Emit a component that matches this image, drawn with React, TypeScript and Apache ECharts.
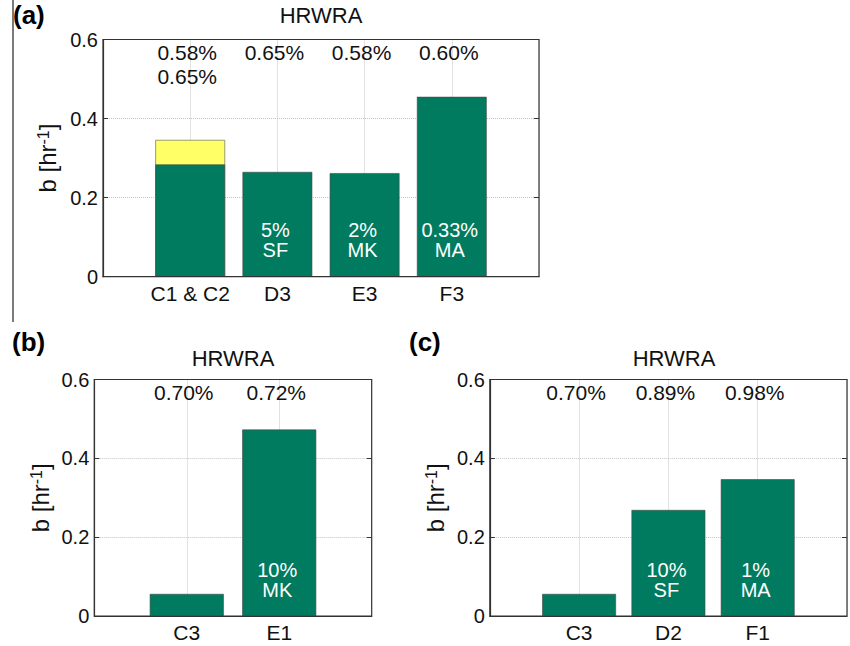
import React, { useEffect, useRef } from "react";
import * as echarts from "echarts";

// ---------- data ----------
const aCategories = ["C1 & C2", "D3", "E3", "F3"];
const aValues = [0.284, 0.265, 0.262, 0.455];
const aExtraValues = [0.346, null, null, null]; // yellow (behind green)
const aTopLine1 = ["0.58%", "0.65%", "0.58%", "0.60%"];
const aTopLine2 = ["0.65%", "", "", ""];
const aInnerPct = ["", "5%", "2%", "0.33%"];
const aInnerCode = ["", "SF", "MK", "MA"];

const bCategories = ["C3", "E1"];
const bValues = [0.056, 0.473];
const bTopLine1 = ["0.70%", "0.72%"];
const bInnerPct = ["", "10%"];
const bInnerCode = ["", "MK"];

const cCategories = ["C3", "D2", "F1"];
const cValues = [0.056, 0.269, 0.347];
const cTopLine1 = ["0.70%", "0.89%", "0.98%"];
const cInnerPct = ["", "10%", "1%"];
const cInnerCode = ["", "SF", "MA"];

const yTicks = [0, 0.2, 0.4, 0.6];
const panelLabels = ["(a)", "(b)", "(c)"];
const panelTitle = "HRWRA";

// ---------- layout / style ----------
const FONT = "'Liberation Sans', Arial, Helvetica, sans-serif";
const GREEN = "#007B5F";
const YELLOW = "#FFFF66";
const TXT = "#111";
const TOP_Y1 = 0.567;
const TOP_Y2 = 0.506;
const INNER_Y = 0.092;

const panels = [
  {
    grid: { left: 103, top: 39.5, width: 436, height: 237.2 },
    categories: aCategories,
    values: aValues,
    extra: aExtraValues,
    top1: aTopLine1,
    top2: aTopLine2,
    innerPct: aInnerPct,
    innerCode: aInnerCode,
    title: { x: 321, y: 4 },
    label: { x: 13, y: 2 },
  },
  {
    grid: { left: 94.3, top: 379.5, width: 277.4, height: 236.5 },
    categories: bCategories,
    values: bValues,
    extra: null,
    top1: bTopLine1,
    top2: null,
    innerPct: bInnerPct,
    innerCode: bInnerCode,
    title: { x: 233, y: 347 },
    label: { x: 12, y: 329 },
  },
  {
    grid: { left: 489.8, top: 379.5, width: 369, height: 236.5 },
    categories: cCategories,
    values: cValues,
    extra: null,
    top1: cTopLine1,
    top2: null,
    innerPct: cInnerPct,
    innerCode: cInnerCode,
    title: { x: 674, y: 347 },
    label: { x: 409, y: 329 },
  },
];

function buildOption() {
  const title: any[] = [];
  const grid: any[] = [];
  const xAxis: any[] = [];
  const yAxis: any[] = [];
  const series: any[] = [];

  panels.forEach((p, i) => {
    const n = p.categories.length;
    const slot = p.grid.width / (n + 1);
    const barWidth = slot * 0.8;

    title.push({
      text: panelTitle,
      left: p.title.x,
      top: p.title.y,
      textAlign: "center",
      padding: 0,
      textStyle: { fontSize: 22, fontWeight: "normal", color: TXT, fontFamily: FONT },
    });
    title.push({
      text: panelLabels[i],
      left: p.label.x,
      top: p.label.y,
      padding: 0,
      textStyle: { fontSize: 26, fontWeight: "bold", color: "#000", fontFamily: FONT },
    });

    grid.push({
      ...p.grid,
      show: true,
      z: 10,
      borderColor: "#333",
      borderWidth: 1.2,
      backgroundColor: "transparent",
      containLabel: false,
    });

    xAxis.push({
      type: "value",
      gridIndex: i,
      min: 0,
      max: n + 1,
      interval: 1,
      axisLine: { show: true, lineStyle: { color: "#333", width: 1.2 } },
      axisTick: { show: false },
      axisLabel: {
        fontSize: 21,
        color: TXT,
        margin: 6,
        fontFamily: FONT,
        formatter: (v: number) => p.categories[Math.round(v) - 1] ?? "",
      },
      splitLine: { show: true, lineStyle: { type: "dotted", color: "#c4c4c4", width: 1 } },
    });

    const yBase = {
      type: "value",
      gridIndex: i,
      min: yTicks[0],
      max: yTicks[yTicks.length - 1],
      interval: 0.2,
    };
    yAxis.push({
      ...yBase,
      position: "left",
      name: "{m|b [hr}{sup|-1}{m|]}",
      nameLocation: "middle",
      nameRotate: 90,
      nameGap: 42,
      nameTextStyle: {
        fontSize: 24,
        color: TXT,
        fontFamily: FONT,
        rich: {
          m: { fontSize: 24, color: TXT, fontFamily: FONT },
          sup: { fontSize: 16, verticalAlign: "top", color: TXT, fontFamily: FONT, padding: [0, 0, 7, 0] },
        },
      },
      axisLine: { show: true, lineStyle: { color: "#333", width: 1.2 } },
      axisTick: { show: true, inside: true, length: 5, lineStyle: { color: "#333" } },
      axisLabel: {
        fontSize: 20,
        color: TXT,
        margin: 5,
        fontFamily: FONT,
        formatter: (v: number) => (v === 0 ? "0" : String(Math.round(v * 10) / 10)),
      },
      splitLine: { show: true, lineStyle: { type: "dotted", color: "#c4c4c4", width: 1 } },
    });
    yAxis.push({
      ...yBase,
      position: "right",
      axisLine: { show: false },
      axisTick: { show: true, inside: true, length: 5, lineStyle: { color: "#333" } },
      axisLabel: { show: false },
      splitLine: { show: false },
    });

    const yIdx = 2 * i;
    if (p.extra) {
      series.push({
        type: "bar",
        xAxisIndex: i,
        yAxisIndex: yIdx,
        barWidth,
        barGap: "-100%",
        data: p.extra
          .map((v, k) => (v == null ? null : [k + 1, v]))
          .filter((d) => d != null),
        itemStyle: { color: YELLOW, borderColor: "#555", borderWidth: 0.6 },
        z: 2,
        silent: true,
      });
    }
    series.push({
      type: "bar",
      xAxisIndex: i,
      yAxisIndex: yIdx,
      barWidth,
      barGap: "-100%",
      data: p.values.map((v, k) => [k + 1, v]),
      itemStyle: { color: GREEN, borderColor: "#444", borderWidth: 0.6 },
      z: 3,
      silent: true,
    });

    const labelSeries = (texts: string[] | null, y: number, color: string, extra: any = {}) => {
      if (!texts) return;
      series.push({
        type: "scatter",
        xAxisIndex: i,
        yAxisIndex: yIdx,
        symbolSize: 0,
        silent: true,
        z: 6,
        itemStyle: { opacity: 1 },
        data: texts
          .map((t, k) => ({ name: t, value: [k + 1, y] }))
          .filter((d) => d.name !== ""),
        label: {
          show: true,
          position: "inside",
          formatter: "{b}",
          fontSize: 21,
          color,
          opacity: 1,
          fontFamily: FONT,
          ...extra,
        },
      });
    };
    labelSeries(p.top1, TOP_Y1, TXT, { offset: [-3, 0] });
    labelSeries(p.top2, TOP_Y2, TXT, { offset: [-3, 0] });
    const inner = p.innerPct.map((pct, k) => (pct ? pct + "\n" + p.innerCode[k] : ""));
    labelSeries(inner, INNER_Y, "#ffffff", { fontSize: 20, lineHeight: 20, offset: [-2, 0] });
  });

  return {
    animation: false,
    backgroundColor: "#ffffff",
    textStyle: { fontFamily: FONT },
    title,
    grid,
    xAxis,
    yAxis,
    series,
    graphic: [
      {
        type: "line",
        shape: { x1: 13, y1: 0, x2: 13, y2: 322 },
        style: { stroke: "#222", lineWidth: 1.2 },
        z: 10,
      },
    ],
  };
}

export default function App() {
  const ref = useRef<HTMLDivElement>(null);
  useEffect(() => {
    if (!ref.current) return;
    const chart = echarts.init(ref.current, undefined, { renderer: "svg" });
    chart.setOption(buildOption() as any);
    return () => chart.dispose();
  }, []);
  return (
    <div
      ref={ref}
      style={{ position: "fixed", left: 0, top: 0, width: 850, height: 646, background: "#fff" }}
    />
  );
}
